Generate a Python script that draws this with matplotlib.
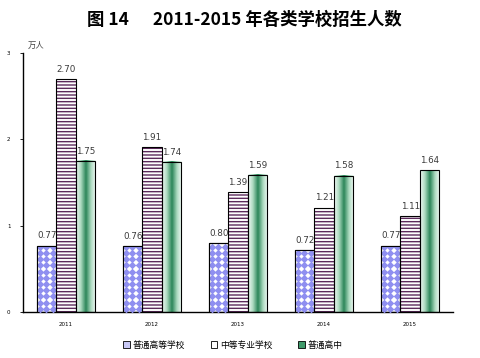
import matplotlib.pyplot as plt
import numpy as np
from matplotlib.colors import LinearSegmentedColormap
from matplotlib.patches import Patch

plt.rcParams['font.family'] = ['Noto Sans CJK SC', 'DejaVu Sans']
plt.rcParams['hatch.linewidth'] = 1.0

years = ['2011', '2012', '2013', '2014', '2015']
series_names = ['普通高等学校', '中等专业学校', '普通高中']
higher_edu = [0.77, 0.76, 0.80, 0.72, 0.77]
vocational = [2.70, 1.91, 1.39, 1.21, 1.11]
high_school = [1.75, 1.74, 1.59, 1.58, 1.64]

blue_c = '#8f8ff0'
purple_c = '#5c2a5c'
green_cmap = LinearSegmentedColormap.from_list(
    'g', ['#f4fbf7', '#a9d8bd', '#2a8558', '#a9d8bd', '#f4fbf7'])

fig = plt.figure(figsize=(4.8, 3.58), dpi=100)
ax = fig.add_axes([0.048, 0.1285, 0.896, 0.7235])
ax.set_xlim(0, len(years))
ax.set_ylim(0, 3)

x = np.arange(len(years)) + 0.5
w = 0.225

# px per data unit (approx) for the diamond pattern
fig.canvas.draw()
p0 = ax.transData.transform((0, 0))
p1 = ax.transData.transform((1, 1))
sx, sy = p1[0] - p0[0], p1[1] - p0[1]
step_px = 6.2

for i in range(len(years)):
    # higher education: diamond pattern
    xl = x[i] - 1.5 * w
    bar = ax.bar(xl, higher_edu[i], w, align='edge', color='white',
                 edgecolor='black', linewidth=0.8, zorder=2)[0]
    gx = np.arange(xl + 3.2 / sx, xl + w, step_px / sx)
    gy = np.arange(3.2 / sy, higher_edu[i], step_px / sy)
    GX, GY = np.meshgrid(gx, gy)
    sc = ax.scatter(GX.ravel(), GY.ravel(), marker='D', s=15, color=blue_c,
                    linewidths=0, zorder=3)
    sc.set_clip_path(bar)
    ax.bar(xl, higher_edu[i], w, align='edge', fill=False,
           edgecolor='black', linewidth=0.8, zorder=4)

    # vocational: horizontal lines
    xm = x[i] - 0.5 * w
    ax.bar(xm, vocational[i], w, align='edge', color='white', hatch='-----',
           edgecolor=purple_c, linewidth=0, zorder=2)
    ax.bar(xm, vocational[i], w, align='edge', fill=False,
           edgecolor='black', linewidth=0.8, zorder=4)

    # high school: gradient
    xr = x[i] + 0.5 * w
    grad = np.linspace(0, 1, 64).reshape(1, -1)
    ax.imshow(grad, cmap=green_cmap, aspect='auto', extent=(xr, xr + w, 0, high_school[i]),
              zorder=2, interpolation='bilinear')
    ax.bar(xr, high_school[i], w, align='edge', fill=False,
           edgecolor='black', linewidth=0.8, zorder=4)

    for xx, v in [(xl, higher_edu[i]), (xm, vocational[i]), (xr, high_school[i])]:
        ax.text(xx + w / 2, v + 0.06, f'{v:.2f}', ha='center', va='bottom',
                fontsize=6.3, color='#3a3a3a', family='DejaVu Sans', zorder=5)

ax.set_xlim(0, len(years))
ax.set_ylim(0, 3)
ax.set_xticks(x)
ax.set_xticklabels(years, fontsize=4, family='DejaVu Sans')
ax.tick_params(axis='x', length=0, pad=7)
ax.set_yticks([0, 1, 2, 3])
ax.set_yticklabels(['0', '1', '2', '3'], fontsize=4, family='DejaVu Sans')
ax.tick_params(axis='y', length=2, width=0.6, pad=7)
for s in ['top', 'right']:
    ax.spines[s].set_visible(False)
ax.spines['left'].set_linewidth(1.0)
ax.spines['bottom'].set_linewidth(1.0)

ax.text(0.01, 1.01, '万人', transform=ax.transAxes, fontsize=6, color='#444444',
        ha='left', va='bottom')

fig.text(0.51, 0.944, '图 14      2011-2015 年各类学校招生人数', ha='center', va='center',
         fontsize=12.5, fontweight='bold', color='black')

handles = [
    Patch(facecolor='#c8c8f5', edgecolor='black', linewidth=0.6),
    Patch(facecolor='white', edgecolor='black', linewidth=0.6),
    Patch(facecolor='#3f9a6a', edgecolor='black', linewidth=0.6),
]
fig.legend(handles, series_names, loc='center', bbox_to_anchor=(0.485, 0.036), ncol=3,
           fontsize=6.3, frameon=False, handlelength=0.7, handleheight=0.7,
           handletextpad=0.3, columnspacing=3.0)

fig.savefig('out.png', dpi=100)
